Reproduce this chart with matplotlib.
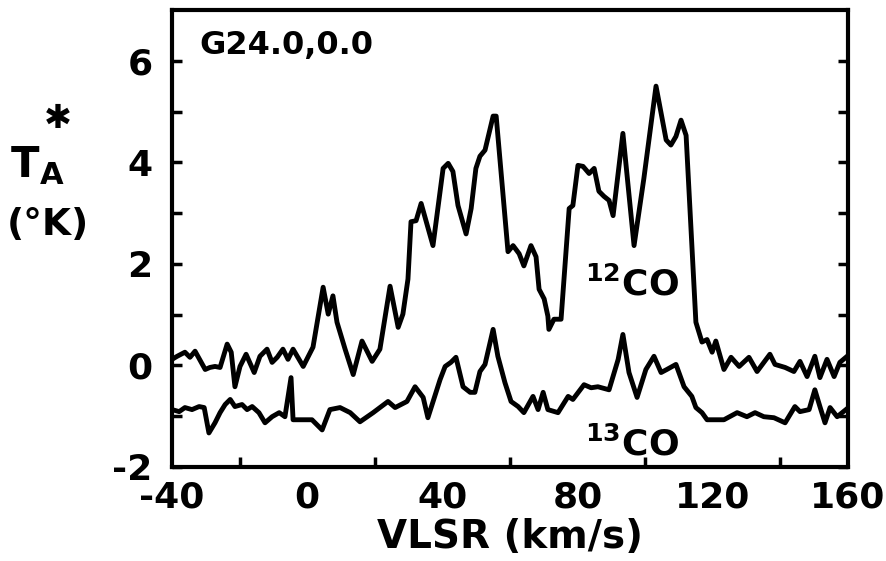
import matplotlib
matplotlib.use("Agg")
import matplotlib.pyplot as plt
import numpy as np

# 12CO spectrum (velocity km/s, antenna temperature K)
v12 = [-40, -38.5, -36.2, -34.7, -33.2, -30.2, -28.8, -27.3, -25.8, -23.7,
       -22.5, -21.4, -19.9, -18.1, -15.7, -14.0, -11.9, -10.4, -8.9, -7.2,
       -5.7, -4.2, -1.2, 1.7, 4.7, 6.2, 7.6, 8.8, 11.2, 13.6,
       16.2, 19.2, 21.5, 24.5, 26.9, 28.3, 29.8, 30.7, 32.2, 33.7,
       37.2, 40.2, 41.7, 43.1, 44.6, 47.0, 48.5, 49.9, 51.1, 52.6,
       55.0, 55.9, 59.4, 60.9, 62.7, 64.1, 66.2, 67.7, 68.6, 70.1,
       71.2, 71.5, 73.0, 75.1, 77.5, 78.6, 80.1, 81.6, 83.4, 84.9,
       86.3, 87.8, 89.3, 90.5, 93.4, 96.7, 99.6, 103.2, 106.2, 107.6,
       109.1, 110.6, 112.1, 115.0, 116.8, 118.3, 119.8, 120.9, 123.3, 125.4,
       127.8, 130.7, 133.1, 136.9, 138.4, 141.4, 144.0, 145.8, 147.9, 150.2,
       151.7, 153.8, 155.9, 157.6, 159.4]
t12 = [0.12, 0.18, 0.26, 0.16, 0.28, -0.08, -0.04, -0.02, -0.04, 0.42,
       0.26, -0.42, -0.02, 0.22, -0.14, 0.18, 0.32, 0.06, 0.16, 0.32,
       0.12, 0.32, -0.02, 0.36, 1.54, 1.01, 1.37, 0.85, 0.32, -0.18,
       0.48, 0.08, 0.32, 1.56, 0.75, 1.01, 1.70, 2.83, 2.85, 3.19,
       2.36, 3.88, 3.98, 3.82, 3.15, 2.59, 3.09, 3.88, 4.12, 4.24,
       4.91, 4.91, 2.24, 2.36, 2.20, 1.96, 2.36, 2.14, 1.50, 1.31,
       0.97, 0.71, 0.91, 0.91, 3.09, 3.15, 3.94, 3.92, 3.78, 3.88,
       3.43, 3.33, 3.25, 2.95, 4.57, 2.36, 3.68, 5.50, 4.44, 4.34,
       4.51, 4.83, 4.53, 0.85, 0.46, 0.51, 0.26, 0.48, -0.08, 0.16,
       -0.02, 0.16, -0.12, 0.22, 0.02, -0.04, -0.12, 0.08, -0.22, 0.18,
       -0.24, 0.12, -0.22, 0.06, 0.16]

# 13CO spectrum
v13 = [-40, -37.9, -36.2, -34.1, -32.0, -30.5, -29.1, -27.3, -25.8, -24.3,
       -22.8, -21.4, -19.3, -17.8, -16.3, -14.3, -12.5, -10.4, -8.3, -6.6,
       -4.8, -4.2, -1.2, 1.4, 4.4, 6.7, 9.7, 12.7, 15.6, 19.5,
       23.9, 26.0, 29.5, 31.9, 34.3, 35.7, 39.3, 40.8, 42.5, 44.0,
       46.1, 48.2, 49.6, 51.1, 52.6, 55.0, 56.4, 58.5, 60.3, 62.4,
       64.1, 66.8, 68.3, 69.8, 71.2, 74.2, 77.2, 78.6, 81.9, 84.0,
       86.0, 89.3, 92.0, 93.4, 95.2, 97.6, 100.2, 102.6, 104.7, 106.4,
       109.1, 111.5, 113.8, 115.0, 116.8, 118.3, 123.3, 127.2, 130.1, 132.5,
       135.1, 138.1, 141.4, 144.3, 145.8, 148.5, 150.2, 151.7, 153.2, 154.7,
       156.8, 159.4]
t13 = [-0.87, -0.91, -0.83, -0.87, -0.81, -0.83, -1.33, -1.13, -0.93, -0.77,
       -0.67, -0.81, -0.77, -0.87, -0.81, -0.93, -1.13, -1.01, -0.93, -1.01,
       -0.24, -1.07, -1.07, -1.07, -1.27, -0.87, -0.83, -0.93, -1.11, -0.93,
       -0.71, -0.83, -0.71, -0.42, -0.63, -1.03, -0.28, -0.02, 0.06, 0.16,
       -0.42, -0.53, -0.53, -0.12, 0.02, 0.71, 0.18, -0.34, -0.71, -0.81,
       -0.93, -0.61, -0.87, -0.53, -0.87, -0.93, -0.61, -0.67, -0.38, -0.44,
       -0.42, -0.48, 0.12, 0.61, -0.14, -0.63, -0.08, 0.18, -0.14, -0.08,
       0.02, -0.42, -0.61, -0.83, -0.93, -1.07, -1.07, -0.93, -1.01, -0.93,
       -1.01, -1.03, -1.13, -0.81, -0.91, -0.87, -0.48, -0.81, -1.13, -0.83,
       -1.01, -0.87]

xticks = [-40, 0, 40, 80, 120, 160]
yticks = [-2, 0, 2, 4, 6]

plt.rcParams['font.family'] = 'DejaVu Sans'
plt.rcParams['font.weight'] = 'bold'
plt.rcParams['mathtext.fontset'] = 'dejavusans'

fig = plt.figure(figsize=(8.87, 5.61), dpi=100)
ax = fig.add_axes([0.194, 0.1676, 0.762, 0.8146])

ax.plot(v12, t12, color='black', lw=3.5, solid_joinstyle='round')
ax.plot(v13, t13, color='black', lw=3.5, solid_joinstyle='round')

ax.set_xlim(-40, 160)
ax.set_ylim(-2, 7)
for s in ax.spines.values():
    s.set_linewidth(3)

ax.set_xticks(xticks)
ax.set_xticks(np.arange(-20, 160, 20), minor=True)
ax.set_yticks(yticks)
ax.set_yticks([-1, 1, 3, 5], minor=True)
ax.set_xticklabels([str(t) for t in xticks])
ax.set_yticklabels([str(t) for t in yticks])
ax.tick_params(axis='both', which='both', direction='in', width=2.5, length=7,
               right=True, top=False, labelsize=26)
ax.tick_params(axis='x', which='major', length=0, pad=10)
ax.tick_params(axis='y', which='major', pad=14)

ax.set_xlabel('VLSR (km/s)', fontsize=28, fontweight='bold', labelpad=2)

ax.text(0.041, 0.923, 'G24.0,0.0', transform=ax.transAxes, fontsize=23,
        fontweight='bold', va='center', ha='left')
ax.text(82.2, 1.6, r'$^{\mathbf{12}}$CO', fontsize=26, fontweight='bold',
        va='center', ha='left')
ax.text(82.2, -1.56, r'$^{\mathbf{13}}$CO', fontsize=26, fontweight='bold',
        va='center', ha='left')

# y-axis label: T_A* (°K)
fig.text(25 / 887, 1 - 165 / 561, 'T', fontsize=30, fontweight='bold',
         ha='center', va='center')
fig.text(52 / 887, 1 - 175 / 561, 'A', fontsize=22, fontweight='bold',
         ha='center', va='center')
fig.text(58 / 887, 1 - 118 / 561, '\u2731', fontsize=24, fontweight='bold',
         ha='center', va='center')
fig.text(48 / 887, 1 - 225 / 561, '(\u00b0K)', fontsize=27, fontweight='bold',
         ha='center', va='center')

fig.savefig('out.png', dpi=100)
